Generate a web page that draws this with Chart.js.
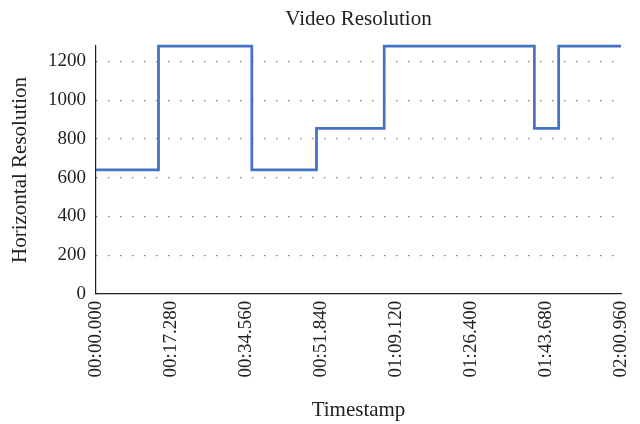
<!DOCTYPE html>
<html>
<head>
<meta charset="utf-8">
<script src="https://cdn.jsdelivr.net/npm/chart.js@4"></script>
<style>
  html, body { margin: 0; padding: 0; background: #fff; }
  #wrap { width: 640px; height: 424px; }
</style>
</head>
<body>
<div id="wrap"><canvas id="canvas"></canvas></div>
<script>
// seconds at which the resolution changes, and the new value
var times = [0, 14.4, 35.9, 50.8, 66.4, 101.0, 106.6, 120.96];
var resolution = [640, 1280, 640, 854, 1280, 854, 1280, 1280];
var xTicks = [0, 17.28, 34.56, 51.84, 69.12, 86.4, 103.68, 120.96];
var yTicks = [0, 200, 400, 600, 800, 1000, 1200];

function fmtTime(s) {
    var m = Math.floor(s / 60);
    var rest = s - m * 60;
    var ss = rest.toFixed(3);
    if (rest < 10) ss = "0" + ss;
    return (m < 10 ? "0" : "") + m + ":" + ss;
}

var points = [];
times.forEach((t, i) => {
    points.push({x: t, y: resolution[i]});
});

var serif = "'Liberation Serif', 'DejaVu Serif', serif";
Chart.defaults.font.family = serif;
Chart.defaults.color = "#222";

var config = {
    type: 'line',
    data: {
        datasets: [{
            data: points,
            stepped: 'before',
            borderColor: '#4472C4',
            borderWidth: 2.75,
            pointRadius: 0,
            fill: false,
            clip: 4
        }]
    },
    options: {
        responsive: false,
        animation: false,
        layout: { padding: { left: 6, right: 19, top: 4, bottom: 0 } },
        plugins: {
            legend: { display: false },
            tooltip: { enabled: false },
            title: {
                display: true,
                fullSize: false,
                text: 'Video Resolution',
                font: { size: 21, weight: 'normal' },
                color: '#222',
                padding: { top: 2.4, bottom: 14.4 }
            }
        },
        scales: {
            x: {
                type: 'linear',
                min: 0,
                max: 120.96,
                afterBuildTicks: function(scale) {
                    scale.ticks = xTicks.map(v => ({value: v}));
                },
                afterFit: function(scale) {
                    // let the last rotated label hang past the plot edge
                    scale.paddingRight = 0;
                },
                ticks: {
                    minRotation: 90,
                    maxRotation: 90,
                    padding: 7,
                    font: { size: 19 },
                    callback: function(v) { return fmtTime(v); }
                },
                grid: { display: false, drawTicks: false },
                border: { display: true, color: '#222', width: 1.2 },
                title: {
                    display: true,
                    text: 'Timestamp',
                    font: { size: 21 },
                    padding: { top: 13, bottom: 1.4 }
                }
            },
            y: {
                min: 0,
                max: 1280,
                afterBuildTicks: function(scale) {
                    scale.ticks = yTicks.map(v => ({value: v}));
                },
                ticks: {
                    padding: 10,
                    font: { size: 19 },
                    callback: function(v) { return String(v); }
                },
                grid: {
                    color: '#666',
                    lineWidth: 1.2,
                    drawTicks: false
                },
                border: { display: true, color: '#222', width: 1.2, dash: [1.2, 10.8] },
                title: {
                    display: true,
                    text: 'Horizontal Resolution',
                    font: { size: 21 },
                    padding: { top: 2, bottom: 4.8 }
                }
            }
        }
    }
};

var ctx = document.getElementById("canvas");
ctx.width = 640;
ctx.height = 424;
window.myChart = new Chart(ctx, config);
</script>
</body>
</html>
